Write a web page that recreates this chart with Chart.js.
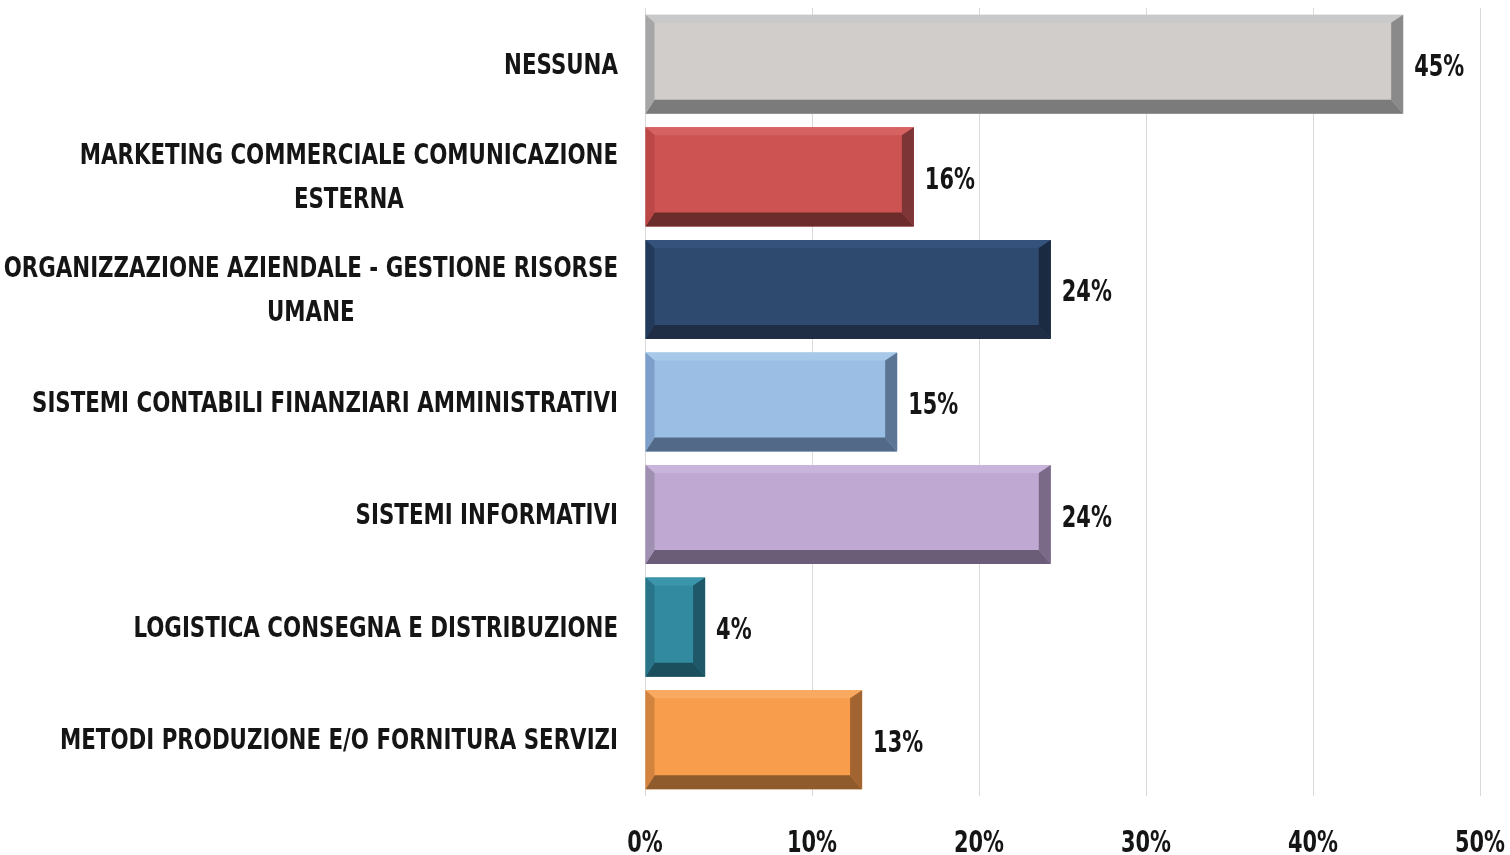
<!DOCTYPE html>
<html>
<head>
<meta charset="utf-8">
<script src="https://cdn.jsdelivr.net/npm/chart.js@4/dist/chart.umd.min.js"></script>
<style>
html,body{margin:0;padding:0;background:#fff;}
canvas{display:block;}
</style>
</head>
<body>
<canvas id="c" width="1510" height="855" style="width:1510px;height:855px"></canvas>
<script>
// ---- data ----
const categories = [
  ['NESSUNA'],
  ['MARKETING COMMERCIALE COMUNICAZIONE', 'ESTERNA'],
  ['ORGANIZZAZIONE AZIENDALE - GESTIONE RISORSE', 'UMANE'],
  ['SISTEMI CONTABILI FINANZIARI AMMINISTRATIVI'],
  ['SISTEMI INFORMATIVI'],
  ['LOGISTICA CONSEGNA E DISTRIBUZIONE'],
  ['METODI PRODUZIONE E/O FORNITURA SERVIZI']
];
const values = [45.4, 16.1, 24.3, 15.1, 24.3, 3.6, 13.0];
const valueLabels = ['45%', '16%', '24%', '15%', '24%', '4%', '13%'];
const xTickValues = [0, 10, 20, 30, 40, 50];
const xTickLabels = ['0%', '10%', '20%', '30%', '40%', '50%'];

// ---- styles ----
const faceColors   = ['#d1cdca', '#cd5353', '#2e4a6f', '#9bbfe4', '#bfa8d1', '#318aa0', '#f79d4b'];
const topColors    = ['#c9c9c9', '#d66262', '#34527b', '#a8c8ea', '#c9b5db', '#3b96ac', '#f9a960'];
const leftColors   = ['#a6a6a6', '#bb4747', '#243a5a', '#7e9fc9', '#9f90b1', '#2a7489', '#d2843f'];
const rightColors  = ['#8a8a8a', '#7d3535', '#1a2a40', '#5d7594', '#7a6a88', '#1f5868', '#a26430'];
const bottomColors = ['#7b7b7b', '#6d2c2c', '#1f2e45', '#526a87', '#6b5c78', '#1c4f5e', '#8f5a2c'];

const FAMILY = "'DejaVu Sans Condensed', 'DejaVu Sans', sans-serif";
const CAT_FONT = 'bold 29px ' + FAMILY;
const NUM_FONT = 'bold 30px ' + FAMILY;
const TEXT_COLOR = '#151515';

// horizontal squeeze factors so the condensed face matches the reference's narrow bold face
function squeeze(ctx, font, sample, target) {
  ctx.save(); ctx.font = font;
  const w = ctx.measureText(sample).width;
  ctx.restore();
  return target / w;
}
function drawText(ctx, text, x, y, align, sx) {
  ctx.save();
  ctx.translate(x, y);
  ctx.scale(sx, 1);
  ctx.textAlign = align;
  ctx.textBaseline = 'alphabetic';
  ctx.fillText(text, 0, 0);
  ctx.restore();
}

const bevelPlugin = {
  id: 'bevel',
  afterDatasetsDraw(chart) {
    const ctx = chart.ctx;
    const meta = chart.getDatasetMeta(0);
    const bt = 8, bl = 9, br = 12, bb = 14;
    const sxNum = squeeze(ctx, NUM_FONT, '30%', 50);
    meta.data.forEach((bar, i) => {
      const p = bar.getProps(['x', 'y', 'base', 'height'], true);
      const L = Math.min(p.base, p.x), R = Math.max(p.base, p.x);
      const T = p.y - p.height / 2, B = p.y + p.height / 2;
      const poly = (pts, col) => {
        ctx.beginPath();
        ctx.moveTo(pts[0][0], pts[0][1]);
        for (let k = 1; k < pts.length; k++) ctx.lineTo(pts[k][0], pts[k][1]);
        ctx.closePath();
        ctx.fillStyle = col;
        ctx.fill();
      };
      ctx.save();
      poly([[L, T], [R, T], [R - br, T + bt], [L + bl, T + bt]], topColors[i]);
      poly([[L, B], [R, B], [R - br, B - bb], [L + bl, B - bb]], bottomColors[i]);
      poly([[L, T], [L + bl, T + bt], [L + bl, B - bb], [L, B]], leftColors[i]);
      poly([[R, T], [R - br, T + bt], [R - br, B - bb], [R, B]], rightColors[i]);
      ctx.fillStyle = TEXT_COLOR;
      ctx.font = NUM_FONT;
      drawText(ctx, valueLabels[i], R + 11, p.y + 12, 'left', sxNum);
      ctx.restore();
    });
  }
};

const textPlugin = {
  id: 'axisTexts',
  afterDraw(chart) {
    const ctx = chart.ctx;
    const yScale = chart.scales.y;
    const xScale = chart.scales.x;
    const rightEdge = chart.chartArea.left - 27;
    const lineH = 44;
    ctx.save();
    ctx.fillStyle = TEXT_COLOR;
    // category labels
    ctx.font = CAT_FONT;
    const sxCat = squeeze(ctx, CAT_FONT, 'SISTEMI CONTABILI FINANZIARI AMMINISTRATIVI', 586);
    categories.forEach((lines, i) => {
      const cy = yScale.getPixelForTick(i);
      const maxW = Math.max(...lines.map(l => ctx.measureText(l).width)) * sxCat;
      const cx = rightEdge - maxW / 2;
      const startY = cy - (lines.length - 1) * lineH / 2;
      lines.forEach((l, k) => drawText(ctx, l, cx, startY + k * lineH + 9.5, 'center', sxCat));
    });
    // x tick labels
    ctx.font = NUM_FONT;
    const sxNum = squeeze(ctx, NUM_FONT, '30%', 50);
    xTickValues.forEach((v, i) => {
      drawText(ctx, xTickLabels[i], xScale.getPixelForValue(v), 852, 'center', sxNum);
    });
    ctx.restore();
  }
};

new Chart(document.getElementById('c'), {
  type: 'bar',
  data: {
    labels: categories.map(c => c.join(' ')),
    datasets: [{
      data: values,
      backgroundColor: faceColors,
      borderWidth: 0,
      barPercentage: 0.88,
      categoryPercentage: 1.0
    }]
  },
  options: {
    indexAxis: 'y',
    responsive: false,
    animation: false,
    layout: { padding: { top: 8, right: 30, left: 0, bottom: 0 } },
    plugins: { legend: { display: false }, tooltip: { enabled: false } },
    scales: {
      x: {
        min: 0,
        max: 50,
        afterBuildTicks(scale) { scale.ticks = xTickValues.map(v => ({ value: v })); },
        afterFit(scale) { scale.height = 59; scale.paddingLeft = 0; scale.paddingRight = 0; },
        grid: { color: '#d9d9d9', lineWidth: 1, drawTicks: false },
        border: { display: false },
        ticks: { display: false }
      },
      y: {
        afterFit(scale) { scale.width = 645; },
        grid: { display: false },
        border: { display: false },
        ticks: { display: false }
      }
    }
  },
  plugins: [bevelPlugin, textPlugin]
});
</script>
</body>
</html>
